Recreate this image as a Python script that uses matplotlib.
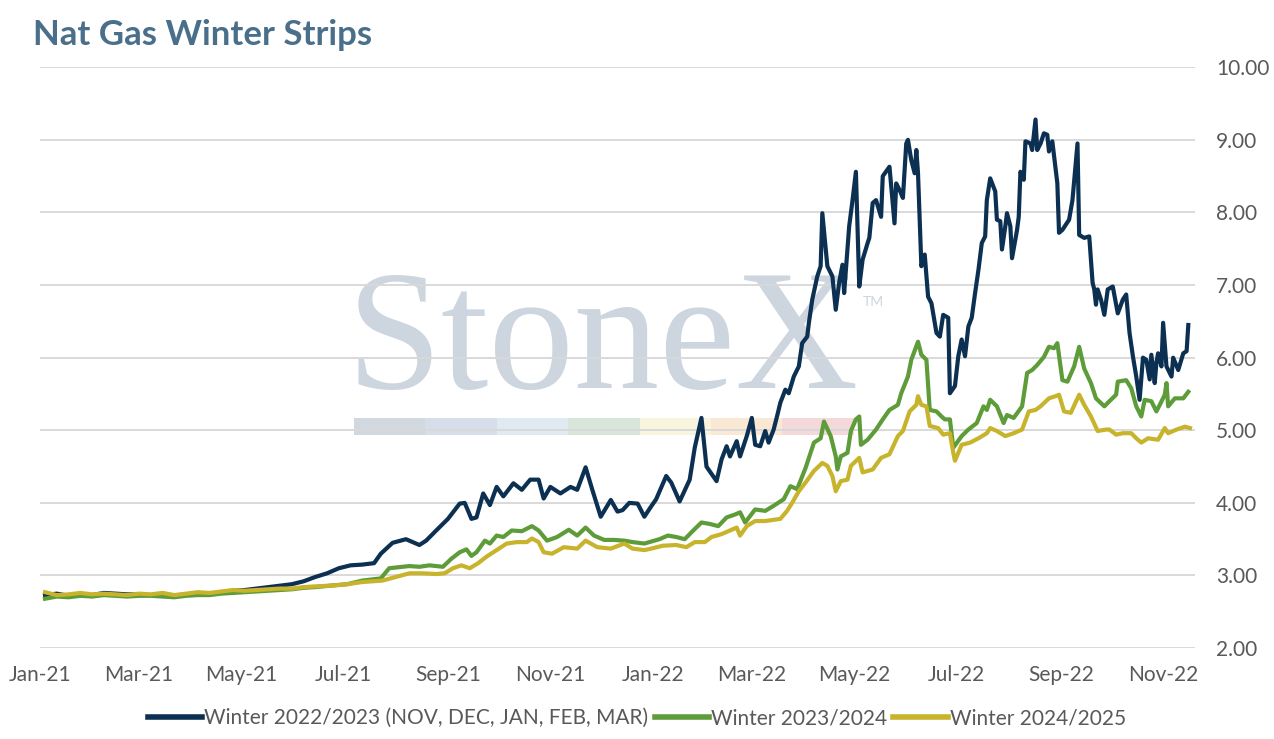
import pandas as pd
import matplotlib
matplotlib.use("Agg")
import matplotlib.pyplot as plt
import matplotlib.dates as mdates
from matplotlib.patches import Rectangle

plt.rcParams["font.family"] = ["Lato", "DejaVu Sans"]

# Winter 2022/2023 strip (NOV-MAR)
navy_dates = [
    "2021-01-04", "2021-01-11", "2021-01-18", "2021-01-25", "2021-02-01", "2021-02-08",
    "2021-02-15", "2021-02-22", "2021-03-01", "2021-03-08", "2021-03-15", "2021-03-22",
    "2021-03-29", "2021-04-05", "2021-04-12", "2021-04-19", "2021-04-26", "2021-05-03",
    "2021-05-10", "2021-05-17", "2021-05-24", "2021-05-31", "2021-06-07", "2021-06-14",
    "2021-06-21", "2021-06-28", "2021-07-05", "2021-07-12", "2021-07-19", "2021-07-23",
    "2021-07-30", "2021-08-07", "2021-08-15", "2021-08-19", "2021-08-25", "2021-09-01",
    "2021-09-08", "2021-09-11", "2021-09-15", "2021-09-18", "2021-09-22", "2021-09-26",
    "2021-09-30", "2021-10-04", "2021-10-10", "2021-10-15", "2021-10-20", "2021-10-25",
    "2021-10-28", "2021-11-01", "2021-11-07", "2021-11-13", "2021-11-17", "2021-11-22",
    "2021-11-26", "2021-12-01", "2021-12-07", "2021-12-11", "2021-12-14", "2021-12-18",
    "2021-12-23", "2021-12-27", "2021-12-31",
    "2022-01-03", "2022-01-09", "2022-01-12", "2022-01-17", "2022-01-23", "2022-01-26",
    "2022-01-30", "2022-02-02", "2022-02-08", "2022-02-11", "2022-02-14", "2022-02-16",
    "2022-02-20", "2022-02-22", "2022-02-26", "2022-03-01", "2022-03-03", "2022-03-06",
    "2022-03-09", "2022-03-11", "2022-03-14", "2022-03-16", "2022-03-18", "2022-03-21",
    "2022-03-23", "2022-03-26", "2022-03-29", "2022-03-31", "2022-04-03", "2022-04-04",
    "2022-04-06", "2022-04-09", "2022-04-11", "2022-04-12", "2022-04-15", "2022-04-18",
    "2022-04-20", "2022-04-22", "2022-04-24", "2022-04-25", "2022-04-28", "2022-04-30",
    "2022-05-02", "2022-05-04", "2022-05-06", "2022-05-09", "2022-05-10", "2022-05-12",
    "2022-05-14", "2022-05-17", "2022-05-18", "2022-05-22", "2022-05-25", "2022-05-26",
    "2022-05-28", "2022-05-30", "2022-06-01", "2022-06-02", "2022-06-04", "2022-06-06",
    "2022-06-07", "2022-06-08", "2022-06-10", "2022-06-12", "2022-06-14", "2022-06-16",
    "2022-06-19", "2022-06-21", "2022-06-23", "2022-06-26", "2022-06-27", "2022-06-30",
    "2022-07-02", "2022-07-04", "2022-07-06", "2022-07-08", "2022-07-10", "2022-07-12",
    "2022-07-14", "2022-07-16", "2022-07-18", "2022-07-19", "2022-07-21", "2022-07-24",
    "2022-07-25", "2022-07-27", "2022-07-28", "2022-07-30", "2022-07-31", "2022-08-02",
    "2022-08-03", "2022-08-06", "2022-08-07", "2022-08-08", "2022-08-10", "2022-08-11",
    "2022-08-14", "2022-08-15", "2022-08-17", "2022-08-18", "2022-08-20", "2022-08-22",
    "2022-08-24", "2022-08-25", "2022-08-27", "2022-08-30", "2022-08-31", "2022-09-02",
    "2022-09-06", "2022-09-08", "2022-09-11", "2022-09-12", "2022-09-15", "2022-09-18",
    "2022-09-20", "2022-09-21", "2022-09-22", "2022-09-23", "2022-09-25", "2022-09-27",
    "2022-09-29", "2022-10-02", "2022-10-05", "2022-10-08", "2022-10-10", "2022-10-12",
    "2022-10-14", "2022-10-16", "2022-10-18", "2022-10-20", "2022-10-22", "2022-10-24",
    "2022-10-25", "2022-10-27", "2022-10-28", "2022-10-29", "2022-10-31", "2022-11-01",
    "2022-11-03", "2022-11-06", "2022-11-07", "2022-11-10", "2022-11-13", "2022-11-15",
    "2022-11-16",
]
navy_values = [
    2.73, 2.75, 2.72, 2.74, 2.73, 2.76,
    2.75, 2.74, 2.74, 2.73, 2.75, 2.72,
    2.74, 2.76, 2.75, 2.77, 2.79, 2.80,
    2.82, 2.84, 2.86, 2.88, 2.92, 2.98,
    3.03, 3.10, 3.14, 3.15, 3.17, 3.30,
    3.45, 3.50, 3.42, 3.48, 3.62, 3.78,
    3.99, 4.00, 3.78, 3.80, 4.13, 3.97,
    4.22, 4.09, 4.27, 4.18, 4.32, 4.32,
    4.06, 4.22, 4.13, 4.22, 4.18, 4.49,
    4.18, 3.81, 4.04, 3.88, 3.90, 4.00,
    3.99, 3.81, 3.95,
    4.05, 4.37, 4.28, 4.02, 4.32, 4.76,
    5.17, 4.50, 4.30, 4.60, 4.78, 4.64,
    4.85, 4.64, 4.92, 5.17, 4.80, 4.78,
    4.99, 4.83, 5.01, 5.19, 5.38, 5.56,
    5.51, 5.74, 5.88, 6.20, 6.29, 6.48,
    6.80, 7.12, 7.26, 7.99, 7.26, 7.12,
    6.66, 7.03, 7.28, 6.89, 7.81, 8.17,
    8.56, 6.98, 7.35, 7.58, 7.65, 8.13,
    8.17, 7.94, 8.50, 8.63, 7.85, 8.40,
    8.31, 8.20, 8.95, 9.00, 8.72, 8.54,
    8.86, 8.54, 7.26, 7.42, 6.84, 6.75,
    6.34, 6.29, 6.59, 6.55, 5.51, 5.61,
    6.02, 6.25, 6.02, 6.43, 6.55, 6.89,
    7.21, 7.58, 7.67, 8.17, 8.47, 8.29,
    7.90, 7.88, 7.49, 7.81, 7.99, 7.81,
    7.37, 7.76, 7.94, 8.56, 8.45, 8.98,
    8.95, 8.86, 9.28, 8.86, 8.95, 9.09,
    9.07, 8.84, 8.98, 8.40, 7.72, 7.76,
    7.90, 8.17, 8.95, 7.69, 7.65, 7.67,
    7.03, 6.94, 6.73, 6.94, 6.80, 6.59,
    6.94, 6.98, 6.61, 6.80, 6.87, 6.34,
    6.02, 5.74, 5.42, 6.00, 5.97, 5.70,
    6.04, 5.65, 5.93, 6.06, 5.88, 6.48,
    5.88, 5.74, 6.00, 5.83, 6.06, 6.09,
    6.45,
]

# Winter 2023/2024 strip
green_dates = [
    "2021-01-04", "2021-01-11", "2021-01-18", "2021-01-25", "2021-02-01", "2021-02-08",
    "2021-02-15", "2021-02-22", "2021-03-01", "2021-03-08", "2021-03-15", "2021-03-22",
    "2021-03-29", "2021-04-05", "2021-04-12", "2021-04-19", "2021-04-26", "2021-05-03",
    "2021-05-10", "2021-05-17", "2021-05-24", "2021-05-31", "2021-06-07", "2021-06-14",
    "2021-06-23", "2021-07-03", "2021-07-12", "2021-07-23", "2021-07-28", "2021-08-01",
    "2021-08-09", "2021-08-15", "2021-08-21", "2021-08-29", "2021-09-03", "2021-09-08",
    "2021-09-12", "2021-09-15", "2021-09-18", "2021-09-23", "2021-09-26", "2021-09-30",
    "2021-10-04", "2021-10-09", "2021-10-15", "2021-10-21", "2021-10-25", "2021-10-30",
    "2021-11-05", "2021-11-12", "2021-11-17", "2021-11-22", "2021-11-27", "2021-12-03",
    "2021-12-09", "2021-12-15", "2021-12-20", "2021-12-27",
    "2022-01-05", "2022-01-10", "2022-01-15", "2022-01-20", "2022-01-26", "2022-01-30",
    "2022-02-04", "2022-02-09", "2022-02-14", "2022-02-19", "2022-02-22", "2022-02-25",
    "2022-03-03", "2022-03-09", "2022-03-14", "2022-03-20", "2022-03-24", "2022-03-28",
    "2022-04-02", "2022-04-07", "2022-04-11", "2022-04-13", "2022-04-17", "2022-04-20",
    "2022-04-21", "2022-04-23", "2022-04-27", "2022-04-29", "2022-05-02", "2022-05-04",
    "2022-05-05", "2022-05-09", "2022-05-14", "2022-05-18", "2022-05-22", "2022-05-27",
    "2022-05-29", "2022-06-02", "2022-06-04", "2022-06-08", "2022-06-10", "2022-06-13",
    "2022-06-15", "2022-06-19", "2022-06-22", "2022-06-24", "2022-06-27", "2022-06-29",
    "2022-07-04", "2022-07-08", "2022-07-13", "2022-07-17", "2022-07-19", "2022-07-21",
    "2022-07-25", "2022-07-29", "2022-07-31", "2022-08-04", "2022-08-09", "2022-08-12",
    "2022-08-15", "2022-08-18", "2022-08-22", "2022-08-25", "2022-08-28", "2022-08-30",
    "2022-09-02", "2022-09-05", "2022-09-09", "2022-09-12", "2022-09-15", "2022-09-19",
    "2022-09-22", "2022-09-27", "2022-09-30", "2022-10-04", "2022-10-05", "2022-10-10",
    "2022-10-13", "2022-10-16", "2022-10-19", "2022-10-21", "2022-10-25", "2022-10-28",
    "2022-10-30", "2022-11-02", "2022-11-03", "2022-11-04", "2022-11-08", "2022-11-13",
    "2022-11-16",
]
green_values = [
    2.68, 2.71, 2.70, 2.72, 2.71, 2.73,
    2.72, 2.71, 2.72, 2.72, 2.71, 2.70,
    2.72, 2.73, 2.73, 2.75, 2.76, 2.77,
    2.78, 2.79, 2.80, 2.81, 2.83, 2.84,
    2.86, 2.88, 2.93, 2.96, 3.10, 3.11,
    3.13, 3.12, 3.14, 3.12, 3.23, 3.32,
    3.36, 3.27, 3.32, 3.48, 3.44, 3.55,
    3.53, 3.62, 3.61, 3.68, 3.62, 3.48,
    3.53, 3.63, 3.55, 3.66, 3.55, 3.49,
    3.49, 3.48, 3.46, 3.44,
    3.50, 3.55, 3.53, 3.50, 3.64, 3.73,
    3.71, 3.68, 3.80, 3.84, 3.87, 3.73,
    3.91, 3.89, 3.96, 4.05, 4.23, 4.19,
    4.48, 4.83, 4.89, 5.12, 4.92, 4.64,
    4.46, 4.64, 4.69, 4.99, 5.15, 5.19,
    4.80, 4.87, 5.01, 5.15, 5.28, 5.35,
    5.51, 5.74, 5.97, 6.22, 6.04, 5.97,
    5.28, 5.26, 5.19, 5.15, 5.15, 4.76,
    4.92, 5.01, 5.10, 5.33, 5.28, 5.42,
    5.33, 5.10, 5.21, 5.17, 5.33, 5.79,
    5.83, 5.90, 6.01, 6.15, 6.13, 6.20,
    5.69, 5.67, 5.88, 6.15, 5.85, 5.65,
    5.44, 5.33, 5.40, 5.49, 5.67, 5.69,
    5.58, 5.33, 5.19, 5.42, 5.40, 5.26,
    5.35, 5.49, 5.65, 5.33, 5.44, 5.44,
    5.53,
]

# Winter 2024/2025 strip
yellow_dates = [
    "2021-01-04", "2021-01-11", "2021-01-18", "2021-01-25", "2021-02-01", "2021-02-08",
    "2021-02-15", "2021-02-22", "2021-03-01", "2021-03-08", "2021-03-15", "2021-03-22",
    "2021-03-29", "2021-04-05", "2021-04-12", "2021-04-19", "2021-04-26", "2021-05-03",
    "2021-05-10", "2021-05-17", "2021-05-24", "2021-05-31", "2021-06-07", "2021-06-14",
    "2021-06-23", "2021-07-03", "2021-07-12", "2021-07-24", "2021-08-01", "2021-08-09",
    "2021-08-17", "2021-08-25", "2021-08-30", "2021-09-04", "2021-09-09", "2021-09-14",
    "2021-09-19", "2021-09-24", "2021-09-30", "2021-10-06", "2021-10-12", "2021-10-18",
    "2021-10-21", "2021-10-25", "2021-10-28", "2021-11-02", "2021-11-09", "2021-11-17",
    "2021-11-22", "2021-11-29", "2021-12-07", "2021-12-15", "2021-12-20", "2021-12-27",
    "2021-12-31",
    "2022-01-07", "2022-01-15", "2022-01-21", "2022-01-26", "2022-02-01", "2022-02-05",
    "2022-02-11", "2022-02-16", "2022-02-20", "2022-02-22", "2022-02-26", "2022-03-03",
    "2022-03-09", "2022-03-18", "2022-03-22", "2022-03-25", "2022-03-29", "2022-04-02",
    "2022-04-07", "2022-04-12", "2022-04-15", "2022-04-18", "2022-04-20", "2022-04-23",
    "2022-04-27", "2022-04-29", "2022-05-04", "2022-05-06", "2022-05-12", "2022-05-17",
    "2022-05-22", "2022-05-27", "2022-05-30", "2022-06-03", "2022-06-07", "2022-06-08",
    "2022-06-10", "2022-06-13", "2022-06-15", "2022-06-20", "2022-06-23", "2022-06-27",
    "2022-06-29", "2022-06-30", "2022-07-04", "2022-07-09", "2022-07-14", "2022-07-19",
    "2022-07-21", "2022-07-25", "2022-07-30", "2022-08-04", "2022-08-09", "2022-08-13",
    "2022-08-17", "2022-08-20", "2022-08-25", "2022-08-29", "2022-08-31", "2022-09-03",
    "2022-09-07", "2022-09-12", "2022-09-15", "2022-09-19", "2022-09-23", "2022-09-28",
    "2022-09-30", "2022-10-04", "2022-10-08", "2022-10-13", "2022-10-16", "2022-10-19",
    "2022-10-23", "2022-10-29", "2022-11-02", "2022-11-04", "2022-11-09", "2022-11-14",
    "2022-11-17",
]
yellow_values = [
    2.77, 2.73, 2.74, 2.76, 2.74, 2.75,
    2.74, 2.73, 2.75, 2.74, 2.76, 2.73,
    2.75, 2.77, 2.76, 2.78, 2.80, 2.79,
    2.80, 2.81, 2.82, 2.82, 2.84, 2.85,
    2.86, 2.88, 2.91, 2.93, 2.98, 3.03,
    3.03, 3.02, 3.03, 3.10, 3.14, 3.10,
    3.17, 3.26, 3.35, 3.44, 3.46, 3.46,
    3.51, 3.46, 3.32, 3.30, 3.39, 3.37,
    3.48, 3.39, 3.37, 3.44, 3.37, 3.35,
    3.37,
    3.41, 3.42, 3.39, 3.46, 3.46, 3.53,
    3.57, 3.62, 3.66, 3.55, 3.68, 3.75,
    3.75, 3.78, 3.89, 4.00, 4.16, 4.28,
    4.44, 4.55, 4.51, 4.37, 4.16, 4.30,
    4.32, 4.51, 4.62, 4.42, 4.46, 4.62,
    4.67, 4.92, 4.99, 5.26, 5.35, 5.47,
    5.35, 5.33, 5.06, 5.03, 4.94, 4.96,
    4.69, 4.58, 4.80, 4.83, 4.89, 4.96,
    5.03, 4.99, 4.92, 4.96, 5.01, 5.26,
    5.28, 5.33, 5.44, 5.47, 5.49, 5.26,
    5.24, 5.49, 5.35, 5.19, 4.99, 5.01,
    5.01, 4.94, 4.96, 4.96, 4.89, 4.83,
    4.89, 4.87, 5.03, 4.96, 5.01, 5.05,
    5.03,
]

series_labels = [
    "Winter 2022/2023 (NOV, DEC, JAN, FEB, MAR)",
    "Winter 2023/2024",
    "Winter 2024/2025",
]
series_colors = ["#0c3052", "#5d9c39", "#c8b32c"]

yticks = [2, 3, 4, 5, 6, 7, 8, 9, 10]
band_colors = ["#d2d8df", "#d5dee9", "#e0eaf2", "#d7e5da", "#f8f4dd", "#f9e8d4", "#f4d8da"]

W, H = 1274, 739
fig = plt.figure(figsize=(W / 100, H / 100), dpi=100)
ax = fig.add_axes([0.0314, 0.123, 0.9066, 0.786])

# watermark, kept under the grid and the lines
ax.text(603 / W, 1 - 388 / H, "StoneX", family="Liberation Serif", fontsize=123,
        color="#cdd5de", ha="center", va="baseline", transform=fig.transFigure,
        zorder=0.1, clip_on=False)
ax.text(863 / W, 1 - 302 / H, "TM", fontsize=10, color="#cdd5de", ha="left",
        va="center", transform=fig.transFigure, zorder=0.1, clip_on=False)
seg_w = 71.4 / W
for i, c in enumerate(band_colors):
    ax.add_patch(Rectangle((354 / W + i * seg_w, 1 - 435 / H), seg_w, 17 / H,
                           transform=fig.transFigure, facecolor=c, edgecolor="none",
                           zorder=0.1, clip_on=False))

for dates, vals, lab, col in zip([navy_dates, green_dates, yellow_dates],
                                 [navy_values, green_values, yellow_values],
                                 series_labels, series_colors):
    ax.plot(pd.to_datetime(dates), vals, color=col, linewidth=3.0, label=lab,
            solid_joinstyle="round", zorder=3)

ax.set_ylim(2, 10)
ax.set_yticks(yticks)
ax.set_yticklabels([f"{v:.2f}" for v in yticks])
ax.yaxis.tick_right()
ax.set_xlim(pd.Timestamp("2021-01-01"), pd.Timestamp("2022-11-20"))
xt = pd.date_range("2021-01-01", "2022-11-01", freq="2MS")
ax.set_xticks(xt)
ax.xaxis.set_major_formatter(mdates.DateFormatter("%b-%y"))
ax.tick_params(axis="both", length=0, labelsize=15, colors="#595959")
ax.tick_params(axis="y", pad=15)
ax.tick_params(axis="x", pad=12)
ax.grid(axis="y", color="#d9d9d9", linewidth=1.4)
ax.grid(axis="x", visible=False)
ax.set_axisbelow(True)
for s in ax.spines.values():
    s.set_visible(False)

fig.text(0.026, 0.953, "Nat Gas Winter Strips", fontsize=25, fontweight="bold",
         color="#4a6f8a", ha="left", va="center")

leg = fig.legend(loc="center", bbox_to_anchor=(0.5, 0.028), ncol=3, frameon=False,
                 fontsize=15, handlelength=2.6, handletextpad=0.1, columnspacing=0.3,
                 labelcolor="#595959")
for h in leg.get_lines():
    h.set_linewidth(4)

fig.savefig("out.png", dpi=100)
